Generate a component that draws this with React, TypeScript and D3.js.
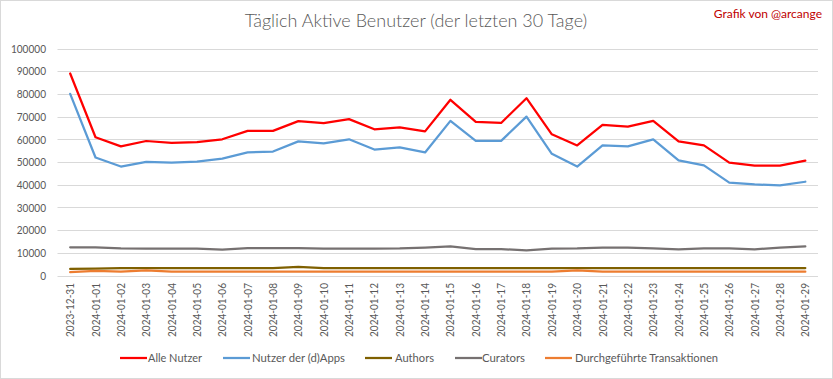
import React from "react";
import * as d3 from "d3";

const dates = [
  "2023-12-31","2024-01-01","2024-01-02","2024-01-03","2024-01-04","2024-01-05","2024-01-06","2024-01-07","2024-01-08","2024-01-09",
  "2024-01-10","2024-01-11","2024-01-12","2024-01-13","2024-01-14","2024-01-15","2024-01-16","2024-01-17","2024-01-18","2024-01-19",
  "2024-01-20","2024-01-21","2024-01-22","2024-01-23","2024-01-24","2024-01-25","2024-01-26","2024-01-27","2024-01-28","2024-01-29",
];

const alleNutzer = [89000,60900,56900,59250,58400,58800,60000,63700,63700,68000,67100,68900,64400,65300,63500,77400,67700,67200,78100,62200,57300,66400,65600,68100,59100,57300,49700,48400,48400,50600];
const dappsNutzer = [80000,52000,48000,50100,49700,50200,51500,54200,54600,59100,58200,60000,55500,56400,54200,68100,59300,59300,70000,53600,48000,57300,56900,60000,50700,48500,40900,40100,39700,41300];
const authors = [2900,3000,3300,3300,3300,3300,3300,3300,3300,3800,3300,3300,3300,3300,3300,3300,3300,3300,3300,3300,3300,3300,3300,3300,3300,3300,3300,3300,3300,3300];
const curators = [12400,12400,11950,11800,11800,11800,11400,12100,12100,12100,11800,11800,11800,11900,12300,12800,11600,11600,11100,11800,11900,12300,12300,11900,11500,11900,11900,11500,12300,12800];
const transaktionen = [1500,2000,1700,2300,1700,1700,1700,1700,1700,1700,1700,1700,1700,1700,1700,1700,1700,1700,1700,1700,2300,1700,1700,1700,1700,1700,1700,1700,1700,1700];

const yTicks = [0,10000,20000,30000,40000,50000,60000,70000,80000,90000,100000];

const seriesNames = ["Alle Nutzer","Nutzer der (d)Apps","Authors","Curators","Durchgeführte Transaktionen"];
const seriesColors = ["#FF0000","#5B9BD5","#7F6000","#767171","#ED7D31"];
const seriesValues = [alleNutzer, dappsNutzer, authors, curators, transaktionen];

const W = 833, H = 379;
const plot = { left: 57.5, right: 818, top: 48.5, bottom: 275.5 };
const FONT = "Lato, 'Open Sans', sans-serif";

export default function App() {
  const x = d3.scaleBand<string>().domain(dates).range([plot.left, plot.right]);
  const y = d3.scaleLinear().domain([0, 100000]).range([plot.bottom, plot.top]);
  const line = d3.line<number>()
    .x((_, i) => (x(dates[i]) as number) + x.bandwidth() / 2)
    .y((d) => y(d));

  const legendItems = [
    { lx: 120, tx: 148, w: 54 },
    { lx: 223, tx: 252, w: 93 },
    { lx: 365, tx: 395, w: 39 },
    { lx: 455, tx: 482, w: 43 },
    { lx: 545, tx: 575, w: 143 },
  ];

  return (
    <svg width={W} height={H} style={{ position: "fixed", left: 0, top: 0, background: "#fff" }}>
      <rect x={0.5} y={0.5} width={W - 1} height={H - 1} fill="#fff" stroke="#d9d9d9" />
      <text x={416} y={27} textAnchor="middle" fontFamily={FONT} fontSize={18} fontWeight={300} fill="#595959">
        Täglich Aktive Benutzer (der letzten 30 Tage)
      </text>
      <text x={822} y={18} textAnchor="end" fontFamily={FONT} fontSize={12} fill="#C00000">
        Grafik von @arcange
      </text>
      {yTicks.map((t) => (
        <g key={t}>
          <line x1={plot.left} x2={plot.right} y1={Math.round(y(t)) + 0.5} y2={Math.round(y(t)) + 0.5} stroke="#d9d9d9" strokeWidth={1} />
          <text x={46} y={y(t)} dy="0.35em" textAnchor="end" fontFamily={FONT} fontSize={12} fill="#595959"
            textLength={String(t).length * 5.85} lengthAdjust="spacingAndGlyphs">
            {t}
          </text>
        </g>
      ))}
      {dates.map((d) => {
        const cx = (x(d) as number) + x.bandwidth() / 2;
        return (
          <text key={d} transform={`translate(${cx + 4},283) rotate(-90)`} textAnchor="end" fontFamily={FONT} fontSize={12} fill="#595959"
            textLength={54} lengthAdjust="spacingAndGlyphs">
            {d}
          </text>
        );
      })}
      {seriesValues.map((vals, i) => (
        <path key={i} d={line(vals) || ""} fill="none" stroke={seriesColors[i]} strokeWidth={2.25} strokeLinejoin="round" strokeLinecap="round" />
      ))}
      {seriesNames.map((n, i) => (
        <g key={n}>
          <line x1={legendItems[i].lx} x2={legendItems[i].lx + 27} y1={358} y2={358} stroke={seriesColors[i]} strokeWidth={2.25} />
          <text x={legendItems[i].tx} y={358} dy="0.35em" fontFamily={FONT} fontSize={12} fill="#595959"
            textLength={legendItems[i].w} lengthAdjust="spacingAndGlyphs">
            {n}
          </text>
        </g>
      ))}
    </svg>
  );
}
